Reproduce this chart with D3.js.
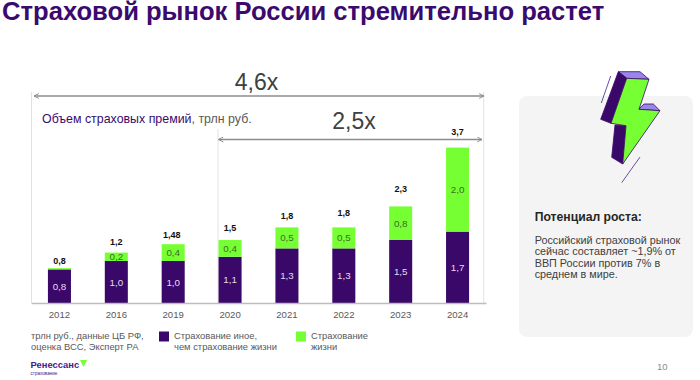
<!DOCTYPE html>
<html lang="ru">
<head>
<meta charset="utf-8">
<script src="https://cdn.jsdelivr.net/npm/d3@7"></script>
<style>
html,body{margin:0;padding:0;background:#fff}
svg{display:block}
text{font-family:"Liberation Sans",Arial,sans-serif}
</style>
</head>
<body>
<svg id="c" width="700" height="380"></svg>
<script>
const years = ["2012","2016","2019","2020","2021","2022","2023","2024"];
const otherInsurance = [0.8,1.0,1.0,1.1,1.3,1.3,1.5,1.7];
const lifeInsurance = [0.03,0.2,0.4,0.4,0.5,0.5,0.8,2.0];
const otherLabels = ["0,8","1,0","1,0","1,1","1,3","1,3","1,5","1,7"];
const lifeLabels = ["","0,2","0,4","0,4","0,5","0,5","0,8","2,0"];
const totalLabels = ["0,8","1,2","1,48","1,5","1,8","1,8","2,3","3,7"];
const seriesNames = ["other","life"];

const totalGap = [4,8,6,9,8,11,14,13];
const DARK="#3a0868", GREEN="#76ff33", GRAY="#595959";

const svg=d3.select("#c");
const x=d3.scaleBand().domain(years).range([31,486]).paddingInner(0.595).paddingOuter(0.2975);
const y=d3.scaleLinear().domain([0,4]).range([303,135]);

svg.append("text").attr("x",2).attr("y",20).attr("font-size",25.6).attr("font-weight",700).attr("fill","#3a0a6e")
  .text("Страховой рынок России стремительно растет");

// card
svg.append("rect").attr("x",519).attr("y",96).attr("width",174).attr("height",241).attr("rx",8).attr("fill","#f4f4f4");

// guide lines
[[31.5,92],[218,129],[483.7,92]].forEach(([gx,top])=>{
  svg.append("line").attr("x1",gx).attr("x2",gx).attr("y1",top).attr("y2",303).attr("stroke","#e2e2e2").attr("stroke-width",1);
});

// arrows
const defs=svg.append("defs");
defs.append("marker").attr("id","ah").attr("viewBox","0 0 10 10").attr("refX",9).attr("refY",5)
  .attr("markerWidth",6).attr("markerHeight",6).attr("markerUnits","userSpaceOnUse").attr("orient","auto-start-reverse")
  .append("path").attr("d","M1,1 L9,5 L1,9").attr("fill","none").attr("stroke","#8c8c8c").attr("stroke-width",1.6);
[[34,484,96],[218.5,482,139.5]].forEach(([a,b,yy])=>{
  svg.append("line").attr("x1",a).attr("x2",b).attr("y1",yy).attr("y2",yy).attr("stroke","#8c8c8c").attr("stroke-width",1.3)
    .attr("marker-start","url(#ah)").attr("marker-end","url(#ah)");
});
svg.append("text").attr("x",256.5).attr("y",90).attr("text-anchor","middle").attr("font-size",23).attr("fill","#404040").text("4,6х");
svg.append("text").attr("x",354).attr("y",129).attr("text-anchor","middle").attr("font-size",23).attr("fill","#404040").text("2,5х");

const sub=svg.append("text").attr("x",42).attr("y",123).attr("font-size",12.4);
sub.append("tspan").attr("fill","#3a0a6e").text("Объем страховых премий");
sub.append("tspan").attr("fill",GRAY).text(", трлн руб.");

// bars
const rows=years.map((yr,i)=>({year:yr,other:otherInsurance[i],life:lifeInsurance[i]}));
const stack=d3.stack().keys(seriesNames)(rows);
const colors={other:DARK,life:GREEN};
svg.selectAll("g.s").data(stack).join("g").attr("class","s").attr("fill",d=>colors[d.key])
 .selectAll("rect").data(d=>d).join("rect")
  .attr("x",d=>x(d.data.year)).attr("width",x.bandwidth())
  .attr("y",d=>y(d[1])).attr("height",d=>y(d[0])-y(d[1]));

// axis
const ax=svg.append("g").attr("transform","translate(0,303)").call(d3.axisBottom(x).tickSize(0).tickPadding(8));
ax.select(".domain").attr("stroke","#bdbdbd").attr("stroke-width",1.4);
ax.selectAll("text").attr("font-size",9.6).attr("fill",GRAY).style("font-family",'"Liberation Sans",Arial,sans-serif');

// value labels
rows.forEach((r,i)=>{
  const cx=x(r.year)+x.bandwidth()/2;
  svg.append("text").attr("x",cx).attr("y",(y(0)+y(r.other))/2+3.5).attr("text-anchor","middle")
    .attr("font-size",9.8).attr("fill","#e4dcf0").text(otherLabels[i]);
  if(lifeLabels[i]) svg.append("text").attr("x",cx).attr("y",(y(r.other)+y(r.other+r.life))/2+3.5).attr("text-anchor","middle")
    .attr("font-size",9.8).attr("fill","#3f6b2a").text(lifeLabels[i]);
  svg.append("text").attr("x",cx-(r.year==="2019"?1.5:0)).attr("y",y(r.other+r.life)-totalGap[i]).attr("text-anchor","middle")
    .attr("font-size",9).attr("font-weight",700).attr("fill","#111").text(totalLabels[i]);
});

// legend + note
const small=(tx,ty,s)=>svg.append("text").attr("x",tx).attr("y",ty).attr("font-size",9.4).attr("fill",GRAY).text(s);
small(31,339,"трлн руб., данные ЦБ РФ,");
small(31,350,"оценка ВСС, Эксперт РА");
svg.append("rect").attr("x",159).attr("y",331.5).attr("width",10).attr("height",10).attr("fill",DARK);
small(174,339,"Страхование иное,");
small(174,350,"чем страхование жизни");
svg.append("rect").attr("x",296).attr("y",331.5).attr("width",10).attr("height",10).attr("fill",GREEN);
small(311,339,"Страхование");
small(311,350,"жизни");

// logo
svg.append("text").attr("x",30.5).attr("y",368).attr("font-size",9.4).attr("font-weight",700).attr("fill","#4a1a85").text("Ренессанс");
svg.append("path").attr("d","M80,360 L87,360 L83.5,367 Z").attr("fill",GREEN);
svg.append("text").attr("x",30.5).attr("y",374.5).attr("font-size",4.6).attr("fill","#4a1a85").text("страхование");

// card text
svg.append("text").attr("x",534.7).attr("y",221).attr("font-size",12.2).attr("font-weight",700).attr("fill","#262626").text("Потенциал роста:");
["Российский страховой рынок","сейчас составляет ~1,9% от","ВВП России против 7% в","среднем в мире."].forEach((s,i)=>{
  svg.append("text").attr("x",534.7).attr("y",244+i*11.4).attr("font-size",10.8).attr("fill","#404040").text(s);
});
svg.append("text").attr("x",657).attr("y",370).attr("font-size",9.5).attr("fill","#8c8c8c").text("10");

// lightning icon
const P=(pts)=>"M"+pts.map(p=>[570+p[0]/3,60+p[1]/3].map(v=>v.toFixed(1)).join(",")).join("L")+"Z";
const icon=svg.append("g").attr("stroke","#3a0868").attr("stroke-width",0.8).attr("stroke-linejoin","round");
icon.append("path").attr("d",P([[145,35],[210,35],[237,58],[170,55]])).attr("fill","#9a86ea");
icon.append("path").attr("d",P([[206,148],[222,132],[250,132],[270,152]])).attr("fill","#9a86ea");
icon.append("path").attr("d",P([[145,35],[170,55],[123,190],[92,178]])).attr("fill",DARK);
icon.append("path").attr("d",P([[135,195],[168,197],[158,312],[125,292]])).attr("fill",DARK);
icon.append("path").attr("d",P([[170,55],[237,58],[207,148],[270,152],[158,312],[168,197],[123,190]])).attr("fill",GREEN);
[[610.7,76,601.3,103],[640,157,621.7,182.7]].forEach(l=>{
  svg.append("line").attr("x1",l[0]).attr("y1",l[1]).attr("x2",l[2]).attr("y2",l[3]).attr("stroke","#5b3a9e").attr("stroke-width",0.9);
});
</script>
</body>
</html>
